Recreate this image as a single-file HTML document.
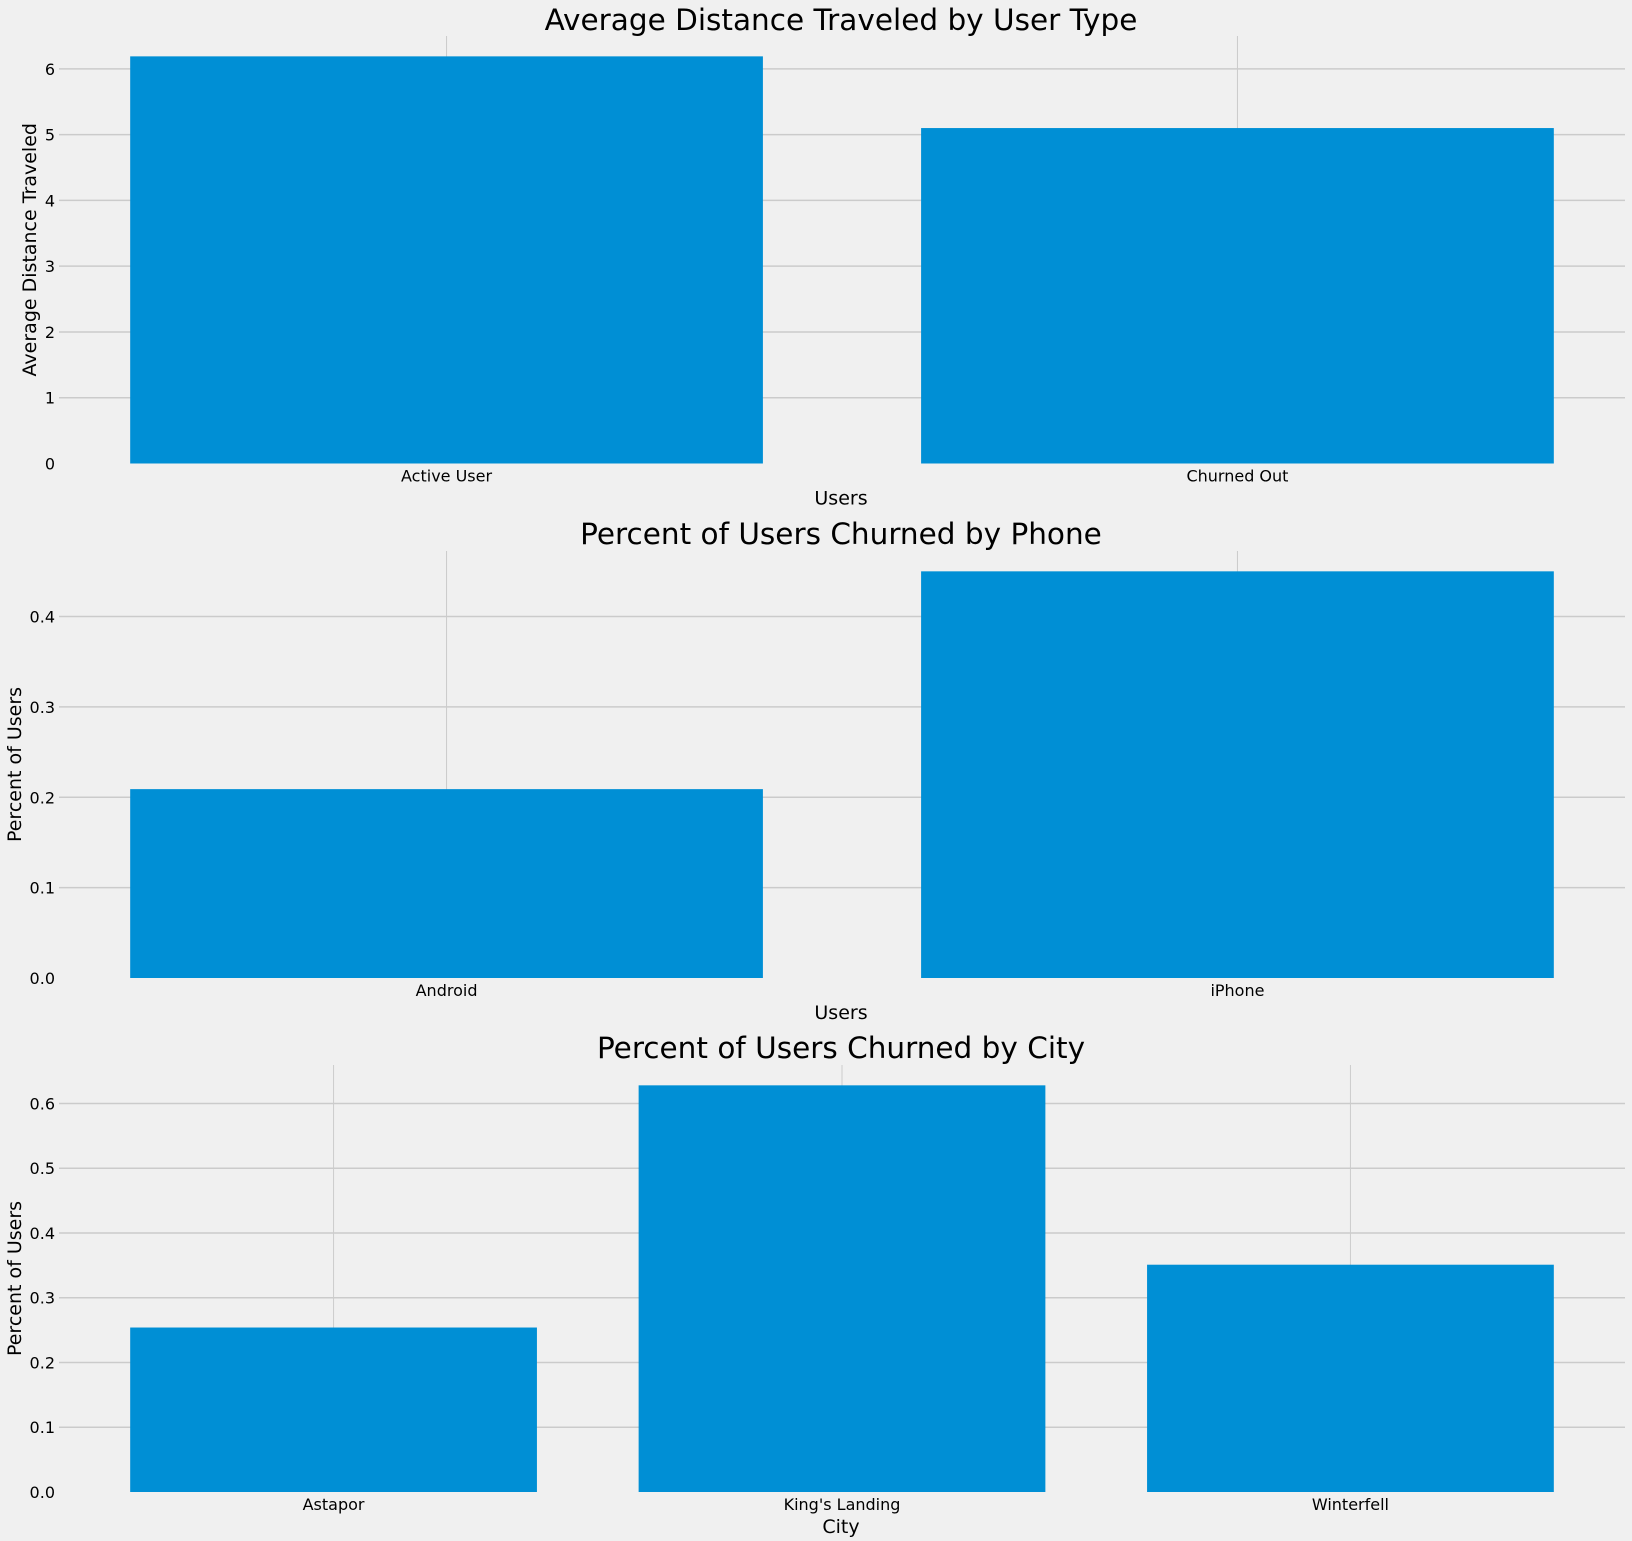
<!DOCTYPE html>
<html><head><meta charset="utf-8"><style>
html,body{margin:0;padding:0;background:#f0f0f0;}
svg{display:block;font-family:"DejaVu Sans","Liberation Sans",sans-serif;}
</style></head><body>
<svg id="fig" width="1632" height="1541" viewBox="0 0 1632 1541"></svg>
<script>
// Chart 1 data
const c1Categories = ["Active User", "Churned Out"];
const c1Values = [6.19, 5.10];
const c1Ticks = [0, 1, 2, 3, 4, 5, 6];
const c1TickLabels = ["0", "1", "2", "3", "4", "5", "6"];
// Chart 2 data
const c2Categories = ["Android", "iPhone"];
const c2Values = [0.209, 0.450];
const c2Ticks = [0, 0.1, 0.2, 0.3, 0.4];
const c2TickLabels = ["0.0", "0.1", "0.2", "0.3", "0.4"];
// Chart 3 data
const c3Categories = ["Astapor", "King's Landing", "Winterfell"];
const c3Values = [0.254, 0.628, 0.351];
const c3Ticks = [0, 0.1, 0.2, 0.3, 0.4, 0.5, 0.6];
const c3TickLabels = ["0.0", "0.1", "0.2", "0.3", "0.4", "0.5", "0.6"];

const NS = "http://www.w3.org/2000/svg";
const svg = document.getElementById("fig");
function mk(tag, attrs, parent, text) {
  const e = document.createElementNS(NS, tag);
  for (const k in attrs) e.setAttribute(k, attrs[k]);
  if (text !== undefined) e.textContent = text;
  (parent || svg).appendChild(e);
  return e;
}

const bg = mk("rect", {x:0, y:0, width:1632, height:1541, fill:"#f0f0f0"});



function chart(cfg) {
  const g = mk("g", {});
  
  
  const L = 59, R = 1625, T = cfg.top, B = cfg.bottom;
  const n = cfg.cats.length;
  const span = (n - 1) + 0.8;
  const xmin = -0.4 - 0.05 * span, xmax = (n - 1) + 0.4 + 0.05 * span;
  const ymax = Math.max(...cfg.vals) * 1.05;
  const xs = v => L + (v - xmin) / (xmax - xmin) * (R - L);
  const ys = v => B - v / ymax * (B - T);
  cfg.cats.forEach((c, i) => {
    const l = mk("line", {x1:xs(i), x2:xs(i), y1:T, y2:B, stroke:"#cbcbcb", "stroke-width":1}, g);
    
    
  });
  cfg.ticks.forEach((t, i) => {
    if (t !== 0) {
      const l = mk("line", {x1:L, x2:R, y1:ys(t), y2:ys(t), stroke:"#cbcbcb", "stroke-width":1.5}, g);
      
      
    }
    const tx = mk("text", {x:55, y:ys(t) + 6, "text-anchor":"end", "font-size":16, fill:"#000"}, g, cfg.tickLabels[i]);
    
    
  });
  cfg.cats.forEach((c, i) => {
    const r = mk("rect", {x:xs(i - 0.4), y:ys(cfg.vals[i]), width:xs(i + 0.4) - xs(i - 0.4), height:B - ys(cfg.vals[i]), fill:"#008fd5"}, g);
    
    
    const tx = mk("text", {x:xs(i), y:B + 18, "text-anchor":"middle", "font-size":16, fill:"#000"}, g, c);
    
    
  });
  const title = mk("text", {x:(L + R) / 2 - 1, y:cfg.titleY, "text-anchor":"middle", "font-size":29.5, fill:"#000"}, g, cfg.title);
  
  
  const xl = mk("text", {x:(L + R) / 2 - 1, y:B + 41, "text-anchor":"middle", "font-size":19, fill:"#000"}, g, cfg.xlabel);
  
  
  const cy = (T + B) / 2;
  const yl = mk("text", {x:cfg.ylabelX, y:cy, "text-anchor":"middle", "font-size":19, fill:"#000", transform:`rotate(-90 ${cfg.ylabelX} ${cy})`}, g, cfg.ylabel);
  
  
}

chart({name:"distance-chart", cats:c1Categories, vals:c1Values, ticks:c1Ticks, tickLabels:c1TickLabels,
  top:36, bottom:463.5, titleY:30, title:"Average Distance Traveled by User Type", xlabel:"Users", ylabel:"Average Distance Traveled", ylabelX:36});
chart({name:"phone-chart", cats:c2Categories, vals:c2Values, ticks:c2Ticks, tickLabels:c2TickLabels,
  top:551, bottom:978, titleY:544, title:"Percent of Users Churned by Phone", xlabel:"Users", ylabel:"Percent of Users", ylabelX:21});
chart({name:"city-chart", cats:c3Categories, vals:c3Values, ticks:c3Ticks, tickLabels:c3TickLabels,
  top:1065, bottom:1492, titleY:1058, title:"Percent of Users Churned by City", xlabel:"City", ylabel:"Percent of Users", ylabelX:21});
</script>
</body></html>
